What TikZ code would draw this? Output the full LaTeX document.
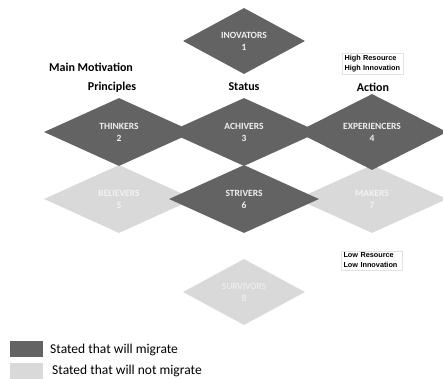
\documentclass[tikz,border=0pt]{standalone}
\usepackage{fontspec}
\setmainfont{Carlito}
\newfontfamily\arialf{Liberation Sans}
\usetikzlibrary{shapes.geometric}
\definecolor{darkg}{HTML}{636363}
\definecolor{lightg}{HTML}{D9D9D9}
\definecolor{dtext}{HTML}{F0F0F0}
\definecolor{ltext}{HTML}{F2F2F2}
\definecolor{boxline}{HTML}{E2E2E2}
\begin{document}
\begin{tikzpicture}[x=1pt,y=-1pt,
  seg/.style={diamond, inner sep=0pt, minimum width=150pt, minimum height=68pt, align=center, font=\bfseries\fontsize{9.5}{12}\selectfont},
  dk/.style={seg, fill=darkg, text=dtext},
  lt/.style={seg, fill=lightg, text=ltext},
  smalld/.style={minimum width=122pt, minimum height=66pt},
  head/.style={font=\bfseries\fontsize{12}{14}\selectfont, inner sep=0pt},
  note/.style={draw=boxline, line width=0.6pt, inner sep=2pt, align=left, text width=57pt, font=\arialf\bfseries\fontsize{7.3}{10}\selectfont},
  legbox/.style={minimum width=33pt, inner sep=0pt},
  legtext/.style={anchor=west, inner sep=0pt, font=\fontsize{13.5}{15}\selectfont}
]
\useasboundingbox (0,0) rectangle (443,378);
% top and bottom
\node[dk, smalld] (inov) at (244,41) {INOVATORS\\1};
\node[lt, smalld, font=\fontsize{9.5}{12}\selectfont] (surv) at (244,292) {SURVIVORS\\8};
% second row (light first)
\node[lt] (beli) at (119,199) {BELIEVERS\\5};
\node[lt] (make) at (372,199) {MAKERS\\7};
% first row
\node[dk] (think) at (119,132) {THINKERS\\2};
\node[dk] (achi) at (244,132) {ACHIVERS\\3};
\node[dk] (expe) at (372,132) {EXPERIENCERS\\4};
\node[dk] (striv) at (244,199) {STRIVERS\\6};
% headings
\node[head, anchor=west] (mm) at (49,67) {Main Motivation};
\node[head] (prin) at (112,87) {Principles};
\node[head] (stat) at (244,87) {Status};
\node[head] (acti) at (373,87) {Action};
% notes
\node[note] (hi) at (373,63.5) {High Resource\\High Innovation};
\node[note] (lo) at (372,260.5) {Low Resource\\Low Innovation};
% legend
\node[legbox, minimum height=16pt, fill=darkg] (k1) at (26.5,349) {};
\node[legbox, minimum height=17pt, fill=lightg] (k2) at (26.5,371.5) {};
\node[legtext] (t1) at (50,350) {Stated that will migrate};
\node[legtext] (t2) at (52,371) {Stated that will not migrate};
\end{tikzpicture}
\end{document}
